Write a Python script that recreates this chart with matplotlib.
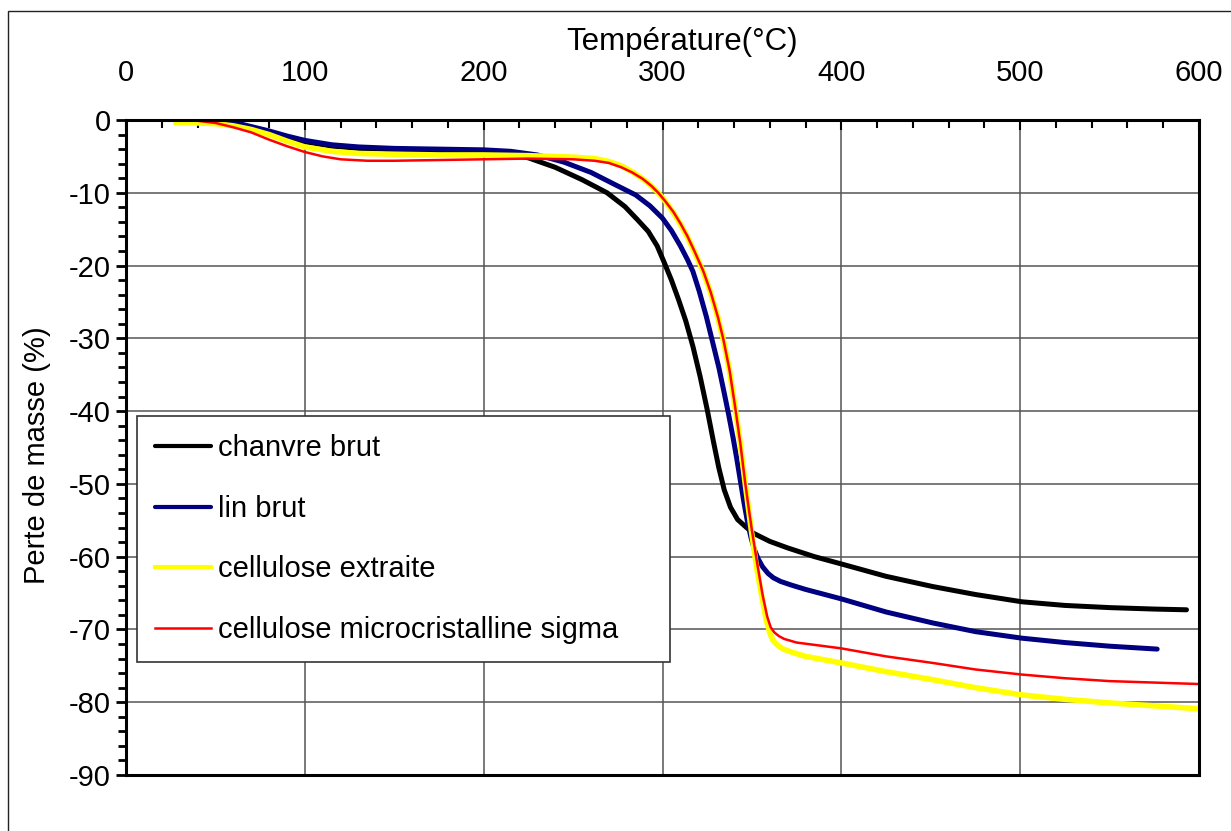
import matplotlib
matplotlib.use("Agg")
import matplotlib.pyplot as plt
from matplotlib.patches import Rectangle
from matplotlib.ticker import MultipleLocator

plt.rcParams["font.family"] = ["Liberation Sans", "DejaVu Sans"]
plt.rcParams["axes.unicode_minus"] = False

# TGA curves: temperature (°C) and mass loss (%)
chanvre_T = [28, 50, 60, 70, 80, 90, 100, 115, 130, 150, 175, 200, 215, 225, 240, 255,
             269, 279, 286, 292, 297, 301, 305, 309, 313, 317, 321, 325, 328.5, 331.5,
             334.5, 338, 342, 347, 351, 360, 370, 385, 400, 425, 451, 475, 501, 525, 550,
             575, 593]
chanvre_m = [0, -0.2, -0.6, -1.2, -1.8, -2.5, -3.0, -3.6, -3.9, -4.1, -4.2, -4.4, -4.8,
             -5.2, -6.5, -8.2, -10, -11.9, -13.7, -15.3, -17.3, -19.6, -22, -24.7, -27.6,
             -31.1, -35.2, -39.8, -44.2, -47.8, -50.8, -53.2, -54.9, -56.0, -56.8, -57.9,
             -58.8, -60, -61, -62.7, -64.1, -65.2, -66.2, -66.7, -67.0, -67.2, -67.3]

lin_T = [28, 50, 60, 70, 80, 90, 100, 115, 130, 150, 175, 200, 215, 230, 245, 260, 272,
         285, 293, 300, 305, 310, 314, 317, 320.5, 324.5, 328, 331.5, 334.5, 337, 339.5,
         341.5, 343.5, 345.5, 347.5, 349.5, 351.5, 353.5, 356, 359, 362, 366, 372, 380,
         400, 425, 451, 475, 501, 525, 550, 576.6]
lin_m = [0, 0, -0.3, -0.9, -1.5, -2.2, -2.8, -3.4, -3.7, -3.9, -4.0, -4.1, -4.3, -4.8,
         -5.8, -7.2, -8.7, -10.3, -11.8, -13.5, -15.2, -17.3, -19.2, -20.8, -23.5, -27,
         -30.5, -34, -37.5, -40.5, -43.7, -46.5, -49.5, -52.5, -55.2, -57.4, -59.1, -60.3,
         -61.4, -62.3, -62.9, -63.4, -63.9, -64.5, -65.8, -67.6, -69.1, -70.3, -71.2,
         -71.8, -72.3, -72.7]

extraite_T = [28, 50, 60, 70, 80, 90, 100, 115, 130, 150, 175, 200, 225, 250, 262, 270,
              277, 283, 289, 294, 298, 302, 306, 310, 314, 318, 322.7, 327, 331, 334,
              337.5, 340.6, 343.5, 346, 348, 350, 352.5, 355.7, 358, 360, 362, 364.5,
              367.5, 372, 380, 400, 425, 451, 475, 501, 525, 550, 575, 600]
extraite_m = [-0.3, -0.5, -0.8, -1.3, -2.0, -2.9, -3.7, -4.3, -4.6, -4.7, -4.8, -4.8, -4.9,
              -5.1, -5.3, -5.7, -6.3, -7.1, -8.1, -9.1, -10.1, -11.3, -12.7, -14.3, -16.1,
              -18.2, -20.8, -23.8, -27.2, -30.2, -34.5, -39.5, -44.5, -49.5, -53.3, -57,
              -61.3, -65.7, -68.7, -70.5, -71.6, -72.2, -72.7, -73.1, -73.7, -74.6, -75.8,
              -76.9, -78, -79, -79.6, -80.1, -80.5, -80.9]

sigma_T = [28, 40, 50, 60, 70, 80, 90, 100, 110, 120, 135, 150, 175, 200, 225, 250, 262,
           270, 277, 283, 289, 294, 298, 302, 306, 310, 314, 318, 322.7, 327, 331, 334,
           337.5, 340.6, 343.5, 346, 348, 350, 353, 356, 358.5, 360.5, 362.5, 365, 368,
           375, 400, 425, 451, 475, 501, 525, 550, 575, 600]
sigma_m = [0, -0.1, -0.4, -1.0, -1.7, -2.7, -3.6, -4.4, -5.0, -5.4, -5.6, -5.6, -5.5, -5.4,
           -5.3, -5.4, -5.6, -5.9, -6.5, -7.2, -8.1, -9.1, -10.1, -11.3, -12.6, -14.2,
           -16.0, -18.1, -20.7, -23.7, -27.1, -30.1, -34.4, -39.4, -44.4, -49.4, -53,
           -56.4, -61, -65.3, -68.2, -69.7, -70.4, -70.9, -71.3, -71.8, -72.6, -73.7,
           -74.6, -75.5, -76.2, -76.7, -77.1, -77.3, -77.5]

labels = ["chanvre brut", "lin brut", "cellulose extraite",
          "cellulose microcristalline sigma"]

W, H = 1231, 831
fig = plt.figure(figsize=(W / 100, H / 100), dpi=100)
ax = fig.add_axes([126 / W, 1 - 775 / H, (1199 - 126) / W, (775 - 120) / H])

ax.plot(chanvre_T, chanvre_m, color="black", lw=3.6, solid_capstyle="round",
        solid_joinstyle="round", label=labels[0])
ax.plot(lin_T, lin_m, color="#000080", lw=3.6, solid_capstyle="round",
        solid_joinstyle="round", label=labels[1])
ax.plot(extraite_T, extraite_m, color="#FFFF00", lw=4.0, solid_joinstyle="round",
        label=labels[2])
ax.plot(sigma_T, sigma_m, color="#FF0000", lw=1.8, solid_joinstyle="round",
        label=labels[3])

ax.set_xlim(0, 600)
ax.set_ylim(-90, 0)
ax.xaxis.set_major_locator(MultipleLocator(100))
ax.xaxis.set_minor_locator(MultipleLocator(20))
ax.yaxis.set_major_locator(MultipleLocator(10))
ax.yaxis.set_minor_locator(MultipleLocator(2))

ax.xaxis.tick_top()
ax.tick_params(axis="x", which="both", direction="in", top=True, bottom=False,
               labeltop=True, labelbottom=False, labelsize=21, pad=24, width=1.5)
ax.tick_params(axis="x", which="major", length=7)
ax.tick_params(axis="x", which="minor", length=6)
ax.tick_params(axis="y", which="both", direction="out", labelsize=21, width=2, pad=4)
ax.tick_params(axis="y", which="major", length=7)
ax.tick_params(axis="y", which="minor", length=5.5)

ax.grid(True, which="major", color="#555555", lw=1.1)
ax.set_axisbelow(True)
for s in ax.spines.values():
    s.set_linewidth(2.2)
    s.set_color("black")

fig.text(682 / W, 1 - 42 / H, "Température(°C)", fontsize=22.5, ha="center", va="center")
fig.text(37 / W, 1 - 455 / H, "Perte de masse (%)", fontsize=21, ha="center",
         va="center", rotation=90)

leg = ax.legend(loc="upper left", bbox_to_anchor=(137 / W, 1 - 657 / H, 533 / W, 241 / H),
                bbox_transform=fig.transFigure, mode="expand", borderaxespad=0,
                fontsize=21, handlelength=1.92, handletextpad=0.24, labelspacing=1.12,
                borderpad=0.62, fancybox=False, framealpha=1, edgecolor="#333333")
leg.get_frame().set_linewidth(1.2)
for h, w in zip(leg.get_lines(), [3.0, 3.0, 3.0, 1.8]):
    h.set_linewidth(w)

fig.patches.append(Rectangle((8 / W, -0.1), 1.2, 1 - 11 / H + 0.1, transform=fig.transFigure,
                             fill=False, edgecolor="#222222", lw=1.0))

fig.savefig("out.png", dpi=100)
